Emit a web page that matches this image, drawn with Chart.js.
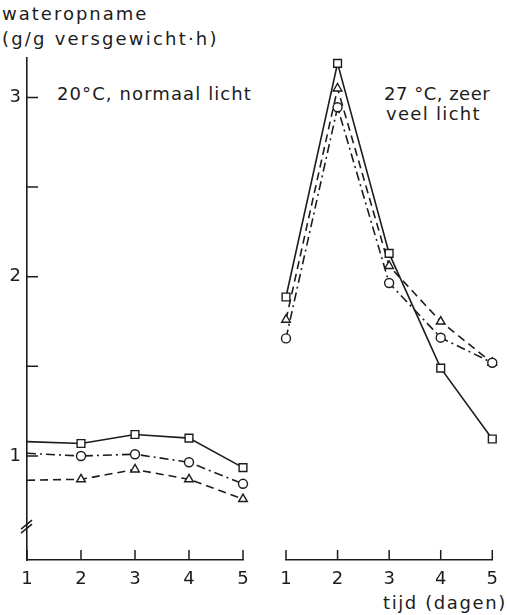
<!DOCTYPE html>
<html>
<head>
<meta charset="utf-8">
<script src="https://cdn.jsdelivr.net/npm/chart.js@4.4.1/dist/chart.umd.min.js"></script>
<style>
  body { margin: 0; background: #fff; width: 507px; height: 615px; position: relative; overflow: hidden; color: #1c1c1c; font-family: "DejaVu Sans", sans-serif; }
  .lbl { position: absolute; font-size: 18px; line-height: 18px; white-space: nowrap; }
  .box { position: absolute; top: 0; height: 615px; }
</style>
</head>
<body>
<div class="lbl" style="left:2px;top:5px;letter-spacing:2px;">wateropname</div>
<div class="lbl" style="left:2px;top:30px;letter-spacing:2.2px;">(g/g versgewicht·h)</div>
<div class="lbl" style="left:57px;top:85px;letter-spacing:1.1px;">20°C, normaal licht</div>
<div class="lbl" style="left:384px;top:85px;letter-spacing:0.5px;">27 °C, zeer</div>
<div class="lbl" style="left:386px;top:105px;letter-spacing:1.3px;">veel licht</div>
<div class="lbl" style="left:383px;top:594px;letter-spacing:1.6px;">tijd (dagen)</div>

<div class="box" style="left:0;width:260px;"><canvas id="leftChart" width="260" height="615"></canvas></div>
<div class="box" style="left:260px;width:247px;"><canvas id="rightChart" width="247" height="615"></canvas></div>

<script>
// days on the x axis
var days = [1, 2, 3, 4, 5];
var dayTicks = [1, 2, 3, 4, 5];
var yTicks = [1, 1.5, 2, 2.5, 3];
var yMin = 0.42, yMax = 3.22;

// 20°C, normal light
var normalSquare = [1.08, 1.07, 1.12, 1.10, 0.935];
var normalCircle = [1.015, 1.0, 1.01, 0.965, 0.845];
var normalTriangle = [0.865, 0.87, 0.925, 0.87, 0.76];

// 27°C, lots of light
var brightSquare = [1.887, 3.19, 2.13, 1.49, 1.095];
var brightCircle = [1.656, 2.945, 1.965, 1.66, 1.52];
var brightTriangle = [1.76, 3.05, 2.06, 1.75, 1.52];

var ink = '#1c1c1c';
Chart.defaults.font.family = '"DejaVu Sans", sans-serif';
Chart.defaults.color = ink;

function toPoints(values) {
  return values.map(function (v, i) { return { x: days[i], y: v }; });
}

function makeSet(values, style, dash, radius, hideFirst) {
  var radii = values.map(function (v, i) { return (hideFirst && i === 0) ? 0 : radius; });
  return {
    data: toPoints(values),
    borderColor: ink,
    borderWidth: 1.6,
    borderDash: dash,
    pointStyle: style,
    pointRadius: radii,
    pointBorderWidth: 1.4,
    pointBorderColor: ink,
    pointBackgroundColor: '#fff',
    tension: 0,
    clip: false
  };
}

// inward tick marks and the axis break
var axisMarks = {
  id: 'axisMarks',
  afterDraw: function (chart, args, opts) {
    var ctx = chart.ctx;
    var area = chart.chartArea;
    var xs = chart.scales.x, ys = chart.scales.y;
    ctx.save();
    ctx.strokeStyle = ink;
    ctx.lineWidth = 1.5;
    ctx.beginPath();
    dayTicks.forEach(function (d) {
      var px = xs.getPixelForValue(d);
      ctx.moveTo(px, area.bottom);
      ctx.lineTo(px, area.bottom - 10);
    });
    if (opts.yAxis) {
      yTicks.forEach(function (v) {
        var py = ys.getPixelForValue(v);
        ctx.moveTo(area.left, py);
        ctx.lineTo(area.left + 11, py);
      });
      var by = ys.getPixelForValue(0.62);
      ctx.moveTo(area.left - 6, by + 5);
      ctx.lineTo(area.left + 5, by - 4);
      ctx.moveTo(area.left - 6, by + 9);
      ctx.lineTo(area.left + 5, by);
    }
    ctx.stroke();
    ctx.restore();
  }
};

function xScale() {
  return {
    type: 'linear', min: 1, max: 5,
    afterBuildTicks: function (s) { s.ticks = dayTicks.map(function (v) { return { value: v }; }); },
    afterFit: function (s) { s.height = 55; },
    grid: { drawOnChartArea: false, drawTicks: false },
    border: { display: true, color: ink, width: 1.6 },
    ticks: { padding: 9, font: { size: 18 }, color: ink }
  };
}

new Chart(document.getElementById('leftChart'), {
  type: 'line',
  data: {
    datasets: [
      makeSet(normalSquare, 'rect', [], 5.5, true),
      makeSet(normalCircle, 'circle', [9, 4, 2, 4], 4.5, true),
      makeSet(normalTriangle, 'triangle', [8, 5], 5, true)
    ]
  },
  options: {
    responsive: false,
    animation: false,
    layout: { padding: { top: 58, left: 0, right: 17, bottom: 0 } },
    plugins: { legend: { display: false }, tooltip: { enabled: false }, axisMarks: { yAxis: true } },
    scales: {
      x: xScale(),
      y: {
        type: 'linear', min: yMin, max: yMax,
        afterBuildTicks: function (s) { s.ticks = yTicks.map(function (v) { return { value: v }; }); },
        afterFit: function (s) { s.width = 27; },
        grid: { drawOnChartArea: false, drawTicks: false },
        border: { display: true, color: ink, width: 1.6 },
        ticks: {
          padding: 6, font: { size: 18 }, color: ink,
          callback: function (v) { return Number.isInteger(v) ? String(v) : ''; }
        }
      }
    }
  },
  plugins: [axisMarks]
});

new Chart(document.getElementById('rightChart'), {
  type: 'line',
  data: {
    datasets: [
      makeSet(brightSquare, 'rect', [], 5.5, false),
      makeSet(brightCircle, 'circle', [9, 4, 2, 4], 4.5, false),
      makeSet(brightTriangle, 'triangle', [8, 5], 5, false)
    ]
  },
  options: {
    responsive: false,
    animation: false,
    layout: { padding: { top: 58, left: 26, right: 9, bottom: 0 } },
    plugins: { legend: { display: false }, tooltip: { enabled: false }, axisMarks: { yAxis: false } },
    scales: {
      x: xScale(),
      y: { type: 'linear', min: yMin, max: yMax, display: false }
    }
  },
  plugins: [axisMarks]
});
</script>
</body>
</html>
